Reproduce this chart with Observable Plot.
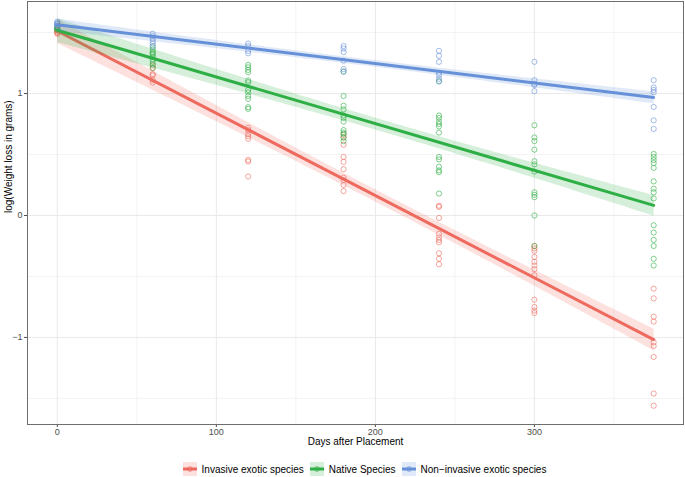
<!DOCTYPE html>
<html><head><meta charset="utf-8">
<script src="https://cdn.jsdelivr.net/npm/d3@7"></script>
<script src="https://cdn.jsdelivr.net/npm/@observablehq/plot@0.6"></script>
<style>
body{margin:0;background:#fff;font-family:"Liberation Sans",Arial,sans-serif;}
#wrap{position:relative;width:685px;height:477px;overflow:hidden;}
#legend{position:absolute;left:44px;width:641px;top:461px;height:16px;display:flex;justify-content:center;align-items:center;font-size:10px;color:#000;}
.item{display:flex;align-items:center;margin:0 3px;}
.item svg{margin-right:5px;}
</style></head>
<body><div id="wrap"><div id="chart"></div><div id="legend"></div></div>
<script>
const days = [0, 60, 120, 180, 240, 300, 375];
const groups = ["Invasive exotic species", "Native Species", "Non\u2212invasive exotic species"];
const colors = ["#EE6A5E", "#2EAF45", "#6690D8"];
const xMajor = [0, 100, 200, 300];
const xMinor = [50, 150, 250, 350];
const yMajor = [-1, 0, 1];
const yMinor = [-1.5, -0.5, 0.5, 1.5];
const xTitle = "Days after Placement";
const yTitle = "log(Weight loss in grams)";

const invasive = [
  [1.53, 1.52, 1.51, 1.50, 1.50, 1.49, 1.52],
  [1.23, 1.21, 1.16, 1.15, 1.11, 1.09],
  [0.72, 0.70, 0.67, 0.65, 0.63, 0.456, 0.443, 0.32],
  [0.66, 0.64, 0.58, 0.48, 0.44, 0.38, 0.31, 0.29, 0.25, 0.20],
  [0.08, 0.07, -0.02, -0.15, -0.18, -0.20, -0.22, -0.31, -0.355, -0.40],
  [-0.25, -0.27, -0.29, -0.34, -0.38, -0.41, -0.44, -0.49, -0.69, -0.75, -0.78, -0.80],
  [-0.60, -0.68, -0.83, -0.87, -1.04, -1.07, -1.16, -1.46, -1.56]
];
const native = [
  [1.55, 1.54, 1.54, 1.53, 1.53, 1.52],
  [1.38, 1.36, 1.34, 1.33, 1.32, 1.30, 1.28, 1.26, 1.24, 1.21],
  [1.235, 1.216, 1.194, 1.175, 1.107, 1.093, 1.03, 1.01, 0.98, 0.957, 0.888, 0.875],
  [1.18, 0.98, 0.90, 0.87, 0.82, 0.80, 0.77, 0.70, 0.68, 0.67, 0.64, 0.61],
  [1.10, 0.82, 0.80, 0.77, 0.75, 0.73, 0.68, 0.48, 0.46, 0.40, 0.37, 0.355, 0.18],
  [0.74, 0.64, 0.61, 0.54, 0.445, 0.42, 0.36, 0.19, 0.17, 0.15, 0.0, -0.25],
  [0.505, 0.48, 0.455, 0.43, 0.39, 0.28, 0.22, 0.19, 0.14, -0.08, -0.14, -0.20, -0.25, -0.355, -0.41]
];
const nonInvasive = [
  [1.59, 1.58, 1.57, 1.57, 1.56, 1.55],
  [1.49, 1.47, 1.45, 1.43, 1.41, 1.39],
  [1.41, 1.39, 1.35, 1.33],
  [1.39, 1.37, 1.34, 1.27, 1.20, 1.18],
  [1.35, 1.31, 1.26, 1.17, 1.15, 1.12, 1.10],
  [1.26, 1.11, 1.08, 1.07, 1.02],
  [1.11, 1.05, 1.03, 1.01, 0.89, 0.78, 0.71]
];

const rows = [];
[invasive, native, nonInvasive].forEach((series, gi) => {
  series.forEach((vals, i) => vals.forEach(v => rows.push({group: groups[gi], day: days[i], value: v})));
});

const fmt = d => d < 0 ? "\u2212" + (-d) : String(d);

const chart = Plot.plot({
  width: 685, height: 452,
  marginLeft: 27, marginRight: 2, marginTop: 1, marginBottom: 28,
  x: {domain: [-18.75, 393.75]},
  y: {domain: [-1.714, 1.755]},
  color: {domain: groups, range: colors},
  style: {fontFamily: "Liberation Sans, Arial, sans-serif", background: "white"},
  marks: [
    Plot.ruleX(xMinor, {stroke: "#f3f3f3"}),
    Plot.ruleY(yMinor, {stroke: "#f3f3f3"}),
    Plot.ruleX(xMajor, {stroke: "#e9e9e9"}),
    Plot.ruleY(yMajor, {stroke: "#e9e9e9"}),
    Plot.dot(rows, {x: "day", y: "value", stroke: "group", r: 2.6, strokeWidth: 0.75, strokeOpacity: 0.8}),
    Plot.linearRegressionY(rows, {x: "day", y: "value", stroke: "group", fill: "group", fillOpacity: 0.2, strokeWidth: 3}),
    Plot.axisX({ticks: xMajor, tickSize: 3, tickPadding: 1, fontSize: 9, color: "#4d4d4d", label: null}),
    Plot.axisY({ticks: yMajor, tickSize: 3, tickPadding: 2, fontSize: 9, color: "#4d4d4d", label: null, tickFormat: fmt}),
    Plot.text([xTitle], {text: d => d, frameAnchor: "bottom", dy: 20, fontSize: 10, fill: "black"}),
    Plot.text([yTitle], {text: d => d, frameAnchor: "left", dx: -19, rotate: -90, fontSize: 10, fill: "black"}),
    Plot.frame({stroke: "#6e6e6e"})
  ]
});
document.getElementById("chart").appendChild(chart);

const legend = document.getElementById("legend");
groups.forEach((g, i) => {
  const item = document.createElement("div");
  item.className = "item";
  const c = colors[i];
  item.innerHTML = `<svg width="14" height="14"><rect width="14" height="14" fill="${c}" fill-opacity="0.2"/><line x1="0" x2="14" y1="7" y2="7" stroke="${c}" stroke-width="3"/><circle cx="7" cy="7" r="2.3" fill="none" stroke="${c}" stroke-width="0.8"/></svg><span>${g}</span>`;
  legend.appendChild(item);
});
</script>
</body></html>
